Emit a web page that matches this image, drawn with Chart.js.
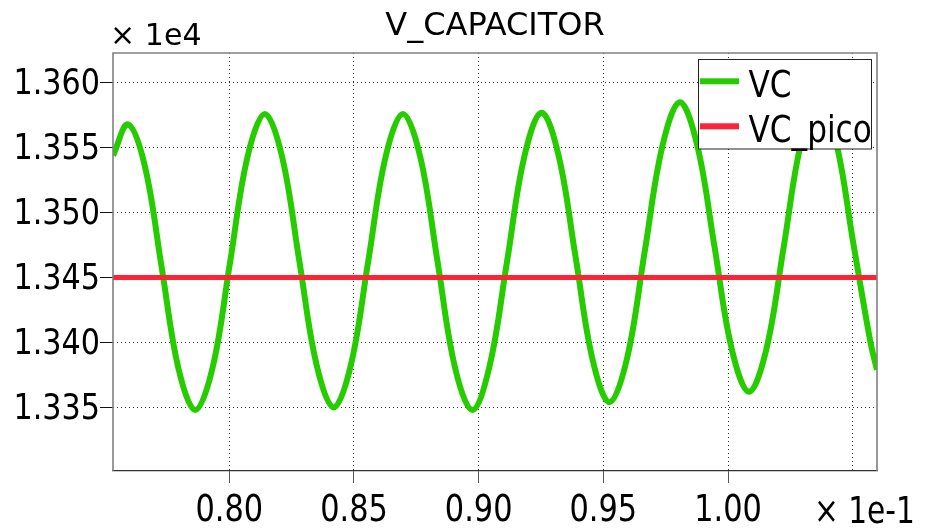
<!DOCTYPE html>
<html><head><meta charset="utf-8">
<script src="https://cdn.jsdelivr.net/npm/chart.js@4/dist/chart.umd.min.js"></script>
<style>html,body{margin:0;padding:0;background:#fff;}#wrap{width:928px;height:528px;}</style>
</head><body><div id="wrap"><canvas id="c" width="928" height="528"></canvas></div>
<script>
// ---- data (time in s, voltage in V) ----
const chartTitle = 'V_CAPACITOR';
const seriesNames = ['VC', 'VC_pico'];
const xScaleNote = '× 1e-1';
const yScaleNote = '× 1e4';
const timeS = [0.07534, 0.075938, 0.076613, 0.077288, 0.077962, 0.078637, 0.079335, 0.080033, 0.080730, 0.081428,
  0.082118, 0.082807, 0.083497, 0.084186, 0.084880, 0.085574, 0.086267, 0.086961, 0.087657, 0.088353,
  0.089048, 0.089744, 0.090439, 0.091134, 0.091828, 0.092523, 0.093204, 0.093885, 0.094565, 0.095246,
  0.095952, 0.096658, 0.097363, 0.098069, 0.098762, 0.099455, 0.100147, 0.100840, 0.101537, 0.102234,
  0.102930, 0.103627, 0.104322, 0.105017, 0.105712, 0.10597];
const vcVolts = [13544, 13568, 13536, 13458, 13380, 13348, 13381, 13462, 13543, 13576,
  13543, 13463, 13383, 13350, 13383, 13463, 13543, 13576, 13543, 13462,
  13381, 13348, 13382, 13462, 13543, 13577, 13544, 13466, 13387, 13354,
  13388, 13470, 13551, 13585, 13552, 13474, 13395, 13362, 13395, 13474,
  13554, 13587, 13555, 13477, 13400, 13379];
const picoTime = [0.075337, 0.105972];
const picoVolts = [13450, 13450];
const xRange = [0.075337, 0.105972];
const yRange = [13301, 13623];
const xStep = 0.005;
const yStep = 50;

const FONT = 'DejaVu Sans';
const canvas = document.getElementById('c');
const ctx = canvas.getContext('2d');
// tick labels in the reference are horizontally condensed
const baseFill = ctx.fillText.bind(ctx);
const squeeze = {36: 0.84, 38: 0.8};
ctx.fillText = function (text, x, y, maxWidth) {
  const m = /(\d+(?:\.\d+)?)px/.exec(this.font);
  const f = (!this.__plain && m) ? squeeze[Math.round(parseFloat(m[1]))] : undefined;
  if (f) {
    this.save(); this.translate(x, y); this.scale(f, 1);
    if (maxWidth === undefined) baseFill(text, 0, 0); else baseFill(text, 0, 0, maxWidth);
    this.restore();
  } else {
    if (maxWidth === undefined) baseFill(text, x, y); else baseFill(text, x, y, maxWidth);
  }
};

function sq(c, s, x, y, f) { c.save(); c.translate(x, y); c.scale(f, 1); c.fillText(s, 0, 0); c.restore(); }

const decor = {
  id: 'decor',
  afterDraw(chart) {
    const c = chart.ctx, a = chart.chartArea;
    c.save();
    c.__plain = true;
    // frame (top, left, right)
    c.strokeStyle = '#808080'; c.lineWidth = 1.6;
    c.beginPath();
    c.moveTo(a.left, a.bottom); c.lineTo(a.left, a.top); c.lineTo(a.right, a.top); c.lineTo(a.right, a.bottom);
    c.stroke();
    // axis multipliers
    c.fillStyle = '#000'; c.textAlign = 'left'; c.textBaseline = 'alphabetic';
    c.font = '31px "' + FONT + '"';
    sq(c, yScaleNote, 110, 45, 0.97);
    c.font = '38px "' + FONT + '"';
    sq(c, xScaleNote, 814, 522.7, 0.78);
    // legend box
    const L = 698.5, T = 59.5, W = 173, H = 89.5;
    c.fillStyle = '#fff'; c.fillRect(L, T, W, H);
    c.strokeStyle = '#222'; c.lineWidth = 1; c.strokeRect(L, T, W, H);
    const ds = chart.data.datasets;
    const rows = [81.3, 126.3], bases = [96.7, 141.5];
    ds.forEach((d, i) => {
      c.fillStyle = d.borderColor;
      c.fillRect(700, rows[i] - 3, 39, 6);
      c.fillStyle = '#000';
      c.font = '38px "' + FONT + '"';
      sq(c, d.label, 748.5, bases[i], 0.82);
    });
    c.__plain = false;
    c.restore();
  }
};

new Chart(canvas, {
  type: 'line',
  data: {
    datasets: [
      {
        label: seriesNames[0],
        data: timeS.map((t, i) => ({x: t, y: vcVolts[i]})),
        borderColor: '#27cc00', backgroundColor: '#27cc00',
        borderWidth: 6, pointRadius: 0, tension: 0.37, order: 1
      },
      {
        label: seriesNames[1],
        data: picoTime.map((t, i) => ({x: t, y: picoVolts[i]})),
        borderColor: '#ff2336', backgroundColor: '#ff2336',
        borderWidth: 5, pointRadius: 0, order: 0
      }
    ]
  },
  options: {
    responsive: false, animation: false, devicePixelRatio: 1,
    layout: {padding: {left: 0, right: 51, top: 0, bottom: 0}},
    plugins: {
      legend: {display: false},
      tooltip: {enabled: false},
      title: {
        display: true, text: chartTitle, color: '#000', fullSize: false,
        font: {family: FONT, size: 32, weight: 'normal'},
        padding: {top: 7, bottom: 7.6}
      }
    },
    scales: {
      x: {
        type: 'linear', min: xRange[0], max: xRange[1],
        afterFit: s => { s.height = 57; },
        ticks: {
          stepSize: xStep, includeBounds: false, autoSkip: false, maxRotation: 0,
          color: '#000', padding: 5, font: {family: FONT, size: 38},
          callback: v => (Math.abs(v - 0.105) < 1e-7 ? '' : (v * 10).toFixed(2))
        },
        grid: {
          color: '#333', lineWidth: 1, tickLength: 12,
          tickColor: c => (c.tick && Math.abs(c.tick.value - 0.105) < 1e-7 ? 'rgba(0,0,0,0)' : '#555')
        },
        border: {display: true, color: '#333', width: 1.2, dash: [1, 3]}
      },
      y: {
        type: 'linear', min: yRange[0], max: yRange[1],
        afterFit: s => { s.width = 113; },
        ticks: {
          stepSize: yStep, includeBounds: false, color: '#000', padding: 0, labelOffset: 2,
          font: {family: FONT, size: 36},
          callback: v => (v / 1e4).toFixed(3)
        },
        grid: {color: '#333', lineWidth: 1, tickLength: 13, tickColor: '#111'},
        border: {display: false, dash: [1, 3]}
      }
    }
  },
  plugins: [decor]
});
</script>
</body></html>
